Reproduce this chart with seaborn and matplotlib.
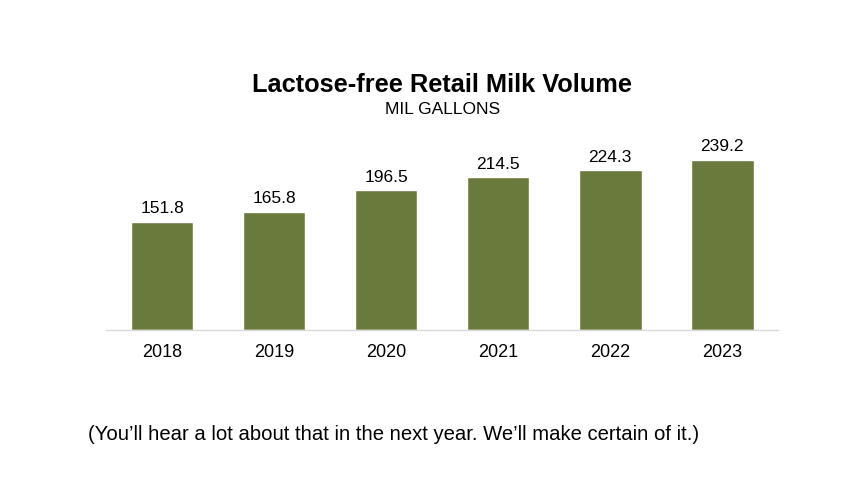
import pandas as pd
import seaborn as sns
import matplotlib.pyplot as plt

years = ["2018", "2019", "2020", "2021", "2022", "2023"]
volume = [151.8, 165.8, 196.5, 214.5, 224.3, 239.2]

df = pd.DataFrame({"year": years, "volume": volume})

sns.set_theme(style="white")
plt.rcParams['font.family'] = ['Liberation Sans', 'DejaVu Sans']

fig = plt.figure(figsize=(8.64, 5.04), dpi=100)
ax = fig.add_axes([0.1227, 0.345, 0.778, 0.377])

sns.barplot(data=df, x="year", y="volume", color="#6a7a3d", width=0.56,
            saturation=1, ax=ax)

for i, v in enumerate(volume):
    ax.text(i, v + 8, f"{v:.1f}", ha="center", va="bottom", fontsize=12.5, color="black")

ax.set_xlim(-0.5, 5.5)
ax.set_ylim(0, 267)
ax.set_xlabel("")
ax.set_ylabel("")
ax.set_yticks([])
ax.tick_params(axis="x", labelsize=13, colors="black", length=0, pad=10)
for s in ["top", "right", "left"]:
    ax.spines[s].set_visible(False)
ax.spines["bottom"].set_color("#d9d9d9")
ax.spines["bottom"].set_linewidth(1)

fig.text(0.512, 0.831, "Lactose-free Retail Milk Volume", ha="center", va="center",
         fontsize=18.3, fontweight="bold", color="black")
fig.text(0.512, 0.783, "MIL GALLONS", ha="center", va="center", fontsize=12.5, color="black")
fig.text(0.102, 0.137, "(You\u2019ll hear a lot about that in the next year. We\u2019ll make certain of it.)",
         ha="left", va="center", fontsize=14.6, color="black")

fig.savefig("out.png", dpi=100)
